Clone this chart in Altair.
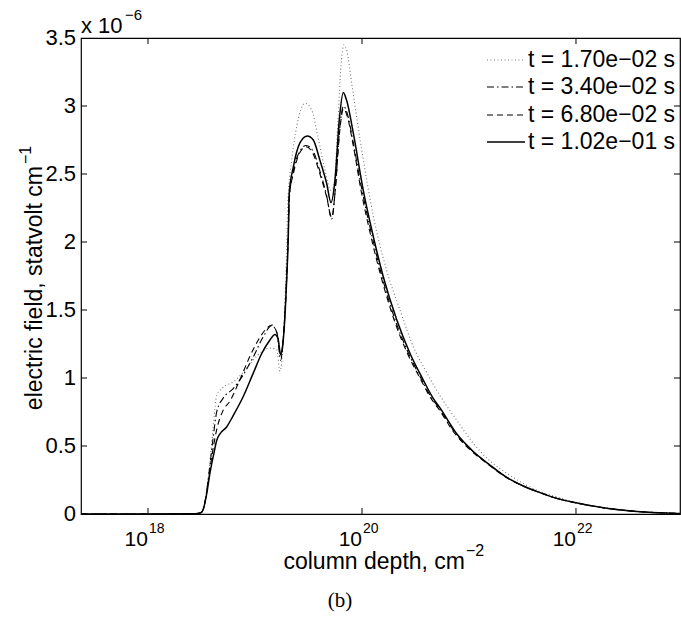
import altair as alt
import pandas as pd

# ---- data (log10 column depth, field in 1e-6 statvolt/cm) ----
solid_logN = [17.374, 18.019, 18.439, 18.495, 18.519, 18.549, 18.579, 18.617, 18.642, 18.673,
              18.735, 18.794, 18.888, 18.981, 19.063, 19.140, 19.187, 19.215, 19.240, 19.262,
              19.296, 19.311, 19.320, 19.358, 19.421, 19.489, 19.545, 19.607, 19.670, 19.710,
              19.748, 19.788, 19.825, 19.857, 19.919, 20.012, 20.106, 20.199, 20.324, 20.449,
              20.573, 20.666, 20.729, 20.885, 21.040, 21.196, 21.352, 21.507, 21.664, 21.820,
              21.975, 22.287, 22.598, 22.907, 22.972]
solid_E = [0.0, 0.0, 0.002, 0.01, 0.04, 0.15, 0.30, 0.45, 0.54, 0.59,
           0.64, 0.72, 0.86, 1.03, 1.18, 1.28, 1.32, 1.29, 1.17, 1.26,
           1.72, 2.04, 2.36, 2.55, 2.73, 2.78, 2.75, 2.60, 2.43, 2.29,
           2.46, 2.90, 3.10, 3.04, 2.80, 2.38, 2.04, 1.745, 1.43, 1.18,
           0.985, 0.85, 0.78, 0.59, 0.46, 0.36, 0.27, 0.206, 0.157, 0.115,
           0.086, 0.042, 0.017, 0.005, 0.003]

dotted_logN = [17.374, 18.019, 18.439, 18.495, 18.519, 18.549, 18.579, 18.607, 18.642, 18.701,
               18.794, 18.888, 18.981, 19.075, 19.140, 19.203, 19.234, 19.262, 19.290, 19.308,
               19.343, 19.390, 19.467, 19.530, 19.589, 19.654, 19.710, 19.738, 19.776, 19.804,
               19.832, 19.860, 19.907, 19.997, 20.106, 20.231, 20.355, 20.480, 20.605, 20.729,
               20.885, 21.040, 21.196, 21.352, 21.507, 21.664, 21.820, 21.975, 22.287, 22.598,
               22.907, 22.972]
dotted_E = [0.0, 0.0, 0.002, 0.01, 0.04, 0.18, 0.38, 0.62, 0.87, 0.93,
            0.97, 1.04, 1.13, 1.20, 1.22, 1.21, 1.05, 1.25, 1.80, 2.31,
            2.60, 2.85, 3.02, 2.97, 2.77, 2.53, 2.38, 2.42, 2.90, 3.30,
            3.45, 3.40, 3.15, 2.68, 2.19, 1.79, 1.50, 1.23, 1.04, 0.87,
            0.69, 0.52, 0.39, 0.30, 0.225, 0.165, 0.125, 0.09, 0.045, 0.018,
            0.005, 0.003]

dashdot_logN = [17.374, 18.019, 18.439, 18.495, 18.519, 18.549, 18.579, 18.612, 18.642, 18.701,
                18.794, 18.888, 18.981, 19.075, 19.156, 19.206, 19.240, 19.262, 19.296, 19.313,
                19.322, 19.358, 19.421, 19.477, 19.542, 19.607, 19.670, 19.717, 19.752, 19.790,
                19.827, 19.860, 19.916, 19.995, 20.089, 20.182, 20.304, 20.430, 20.556, 20.650,
                20.715, 20.874, 21.033, 21.192, 21.350, 21.507, 21.664, 21.820, 21.975, 22.287,
                22.598, 22.907, 22.972]
dashdot_E = [0.0, 0.0, 0.002, 0.01, 0.04, 0.17, 0.36, 0.58, 0.75, 0.85,
             0.92, 1.02, 1.15, 1.30, 1.385, 1.33, 1.13, 1.27, 1.75, 2.10,
             2.33, 2.52, 2.67, 2.71, 2.67, 2.52, 2.34, 2.17, 2.40, 2.82,
             3.00, 2.95, 2.74, 2.40, 2.06, 1.76, 1.44, 1.19, 0.99, 0.855,
             0.785, 0.595, 0.463, 0.362, 0.271, 0.206, 0.157, 0.115, 0.086, 0.042,
             0.017, 0.005, 0.003]

dashed_logN = [17.374, 18.019, 18.439, 18.495, 18.519, 18.549, 18.579, 18.617, 18.642, 18.701,
               18.766, 18.860, 18.953, 19.047, 19.103, 19.156, 19.206, 19.240, 19.262, 19.296,
               19.311, 19.320, 19.358, 19.421, 19.477, 19.542, 19.607, 19.670, 19.717, 19.752,
               19.790, 19.827, 19.860, 19.916, 19.991, 20.084, 20.178, 20.299, 20.425, 20.551,
               20.645, 20.710, 20.869, 21.028, 21.187, 21.346, 21.505, 21.664, 21.820, 21.975,
               22.287, 22.598, 22.907, 22.972]
dashed_E = [0.0, 0.0, 0.002, 0.01, 0.04, 0.16, 0.33, 0.52, 0.62, 0.76,
            0.83, 0.99, 1.16, 1.30, 1.36, 1.39, 1.33, 1.17, 1.27, 1.72,
            2.04, 2.33, 2.50, 2.66, 2.70, 2.65, 2.50, 2.33, 2.18, 2.40,
            2.80, 2.98, 2.93, 2.72, 2.38, 2.04, 1.745, 1.43, 1.18, 0.985,
            0.85, 0.78, 0.59, 0.46, 0.36, 0.27, 0.206, 0.157, 0.115, 0.086,
            0.042, 0.017, 0.005, 0.003]

legend_labels = ["t = 1.70e\u221202 s", "t = 3.40e\u221202 s", "t = 6.80e\u221202 s", "t = 1.02e\u221201 s"]
x_ticks = [1e18, 1e20, 1e22]
x_tick_exp = ["18", "20", "22"]
y_ticks = [0, 0.5, 1, 1.5, 2, 2.5, 3, 3.5]
y_tick_labels = ["0", "0.5", "1", "1.5", "2", "2.5", "3", "3.5"]
x_domain = [10 ** 17.374, 10 ** 22.972]
y_domain = [0, 3.5]

FONT = "Liberation Sans"
W, H = 599, 476

xs = alt.Scale(type="log", domain=x_domain, nice=False)
ys = alt.Scale(domain=y_domain, nice=False)


def series_df(logN, E):
    return pd.DataFrame({"N": [10 ** v for v in logN], "E": E})


def line_layer(df, dash, color, width):
    kw = dict(color=color, strokeWidth=width, clip=True, interpolate="monotone")
    if dash:
        kw["strokeDash"] = dash
    return alt.Chart(df).mark_line(**kw).encode(
        x=alt.X("N:Q", scale=xs, axis=None),
        y=alt.Y("E:Q", scale=ys, axis=None),
    )


def text_layer(txt, x, y, size, align="left", angle=None, font=FONT):
    kw = dict(font=font, fontSize=size, align=align, baseline="alphabetic", color="black")
    if angle is not None:
        kw["angle"] = angle
    return alt.Chart(pd.DataFrame({"t": [txt]})).mark_text(**kw).encode(
        x=alt.value(x), y=alt.value(y), text="t:N")


styles = [
    ([1, 2.5], "#777777", 1.1),
    ([7, 3, 1.5, 3], "black", 1.1),
    ([6, 4], "black", 1.1),
    (None, "black", 1.5),
]
series = [
    series_df(dotted_logN, dotted_E),
    series_df(dashdot_logN, dashdot_E),
    series_df(dashed_logN, dashed_E),
    series_df(solid_logN, solid_E),
]

layers = []
for df, (dash, color, width) in zip(series, styles):
    layers.append(line_layer(df, dash, color, width))

# inside ticks
xt = pd.DataFrame({"N": x_ticks, "e": x_tick_exp})
layers.append(alt.Chart(xt).mark_rule(color="black", strokeWidth=1).encode(
    x=alt.X("N:Q", scale=xs, axis=None), y=alt.value(H), y2=alt.value(H - 6)))
layers.append(alt.Chart(xt).mark_rule(color="black", strokeWidth=1).encode(
    x=alt.X("N:Q", scale=xs, axis=None), y=alt.value(0), y2=alt.value(6)))
yt = pd.DataFrame({"v": y_ticks[1:-1]})
layers.append(alt.Chart(yt).mark_rule(color="black", strokeWidth=1).encode(
    y=alt.Y("v:Q", scale=ys, axis=None), x=alt.value(0), x2=alt.value(6)))
layers.append(alt.Chart(yt).mark_rule(color="black", strokeWidth=1).encode(
    y=alt.Y("v:Q", scale=ys, axis=None), x=alt.value(W - 6), x2=alt.value(W)))

# y tick labels
ytl = pd.DataFrame({"v": y_ticks, "lab": y_tick_labels})
layers.append(alt.Chart(ytl).mark_text(font=FONT, fontSize=22, align="right", baseline="middle",
                                       color="black").encode(
    y=alt.Y("v:Q", scale=ys, axis=None), x=alt.value(-5), text="lab:N"))

# x tick labels: 10 with superscript exponent
layers.append(alt.Chart(xt).mark_text(font=FONT, fontSize=21, align="right", baseline="alphabetic",
                                      color="black").encode(
    x=alt.X("N:Q", scale=xs, axis=None), y=alt.value(508), text=alt.value("10")))
layers.append(alt.Chart(xt).mark_text(font=FONT, fontSize=14, align="left", baseline="alphabetic",
                                      color="black", dx=1).encode(
    x=alt.X("N:Q", scale=xs, axis=None), y=alt.value(495), text="e:N"))

# scale factor "x 10^-6"
layers.append(text_layer("x 10", 0, -5, 22))
layers.append(text_layer("\u22126", 44, -18, 15))

# x title
layers.append(text_layer("column depth, cm", 384, 531, 23, align="right"))
layers.append(text_layer("\u22122", 385, 518, 16))

# y title (rotated)
layers.append(text_layer("electric field, statvolt cm", -39, 128, 23, align="right", angle=270))
layers.append(text_layer("\u22121", -50, 126, 16, align="left", angle=270))

# caption
layers.append(text_layer("(b)", 259, 569, 21, align="center", font="Liberation Serif"))

# legend
leg_y = [22, 49, 77, 104]
for lab, ly, (dash, color, width) in zip(legend_labels, leg_y, styles):
    kw = dict(color=color, strokeWidth=width)
    if dash:
        kw["strokeDash"] = dash
    ldf = pd.DataFrame({"t": [lab]})
    layers.append(alt.Chart(ldf).mark_rule(**kw).encode(
        x=alt.value(406), x2=alt.value(444), y=alt.value(ly)))
    layers.append(alt.Chart(ldf).mark_text(font=FONT, fontSize=23, align="left", baseline="middle",
                                           color="black").encode(
        x=alt.value(447), y=alt.value(ly), text="t:N"))

chart = alt.layer(*layers).properties(
    width=W, height=H,
    autosize=alt.AutoSizeParams(type="none"),
    padding={"left": 81, "top": 38, "right": 1, "bottom": 104},
    background="white",
).configure_view(stroke="black", strokeWidth=1.2)

chart.save("out.html", embed_options={"renderer": "svg", "actions": False})
